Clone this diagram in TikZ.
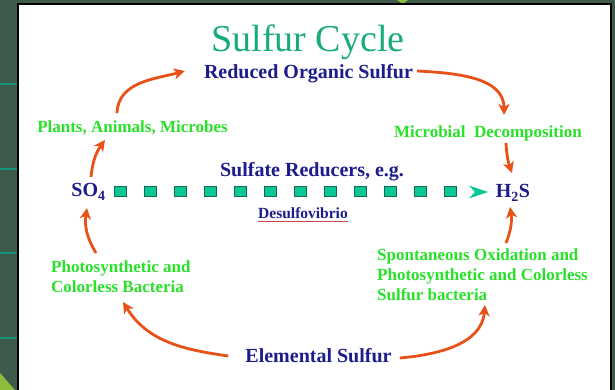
\documentclass[tikz,border=0pt]{standalone}
\usepackage{fontspec}
\setmainfont{Liberation Serif}
\usepackage{tikz}
\usetikzlibrary{arrows.meta, calc}
\definecolor{SlideBG}{RGB}{62,90,75}
\definecolor{RuleTeal}{RGB}{20,150,125}
\definecolor{CornerLime}{RGB}{140,190,60}
\definecolor{TitleTeal}{RGB}{25,170,125}
\definecolor{CompBlue}{RGB}{28,28,140}
\definecolor{ProcGreen}{RGB}{40,225,40}
\definecolor{CycleRed}{RGB}{232,82,25}
\definecolor{SqFill}{RGB}{10,200,150}
\definecolor{SqEdge}{RGB}{25,105,85}
\definecolor{SpellRed}{RGB}{200,70,80}

\begin{document}
\begin{tikzpicture}[x=1pt, y=1pt,
  comp/.style={text=CompBlue, font=\fontsize{20}{24}\selectfont\bfseries, inner sep=2pt},
  proc/.style={text=ProcGreen, font=\fontsize{17}{20}\selectfont\bfseries, inner sep=2pt, align=left},
  cyc/.style={draw=CycleRed, line width=2.8pt, -{Stealth[length=11pt,width=11pt,inset=3pt]}},
  sqbox/.style={fill=SqFill, draw=SqEdge, line width=0.8pt, minimum width=12pt, minimum height=10pt, inner sep=0pt}]
  \useasboundingbox (0,0) rectangle (615,390);
  \fill[SlideBG] (0,0) rectangle (615,390);
  \foreach \y in {52,137,221,306}
    \fill[RuleTeal] (0,\y-1) rectangle (17,\y+1);
  \fill[CornerLime] (0,17) -- (15,0) -- (0,0) -- cycle;
  \fill[CornerLime] (397,390) -- (408,390) -- (403,386) -- cycle;
  \draw[fill=white, line width=2pt] (18,-5) rectangle (611,386);

  \node[text=TitleTeal, font=\fontsize{38}{44}\selectfont, anchor=base] (title) at (308,338) {Sulfur Cycle};
  \node[comp, anchor=base] (roc) at (308.5,311) {Reduced Organic Sulfur};
  \node[proc, anchor=base] (plants) at (132.5,257) {Plants, Animals, Microbes};
  \node[proc, anchor=base] (decomp) at (488,252) {Microbial\ \ Decomposition};
  \node[comp, anchor=base] (sred) at (312,213) {Sulfate Reducers, e.g.};
  \node[comp, anchor=base] (so4) at (88.5,193) {SO\textsubscript{4}};
  \node[comp, anchor=base] (h2s) at (513,192) {H\textsubscript{2}S};
  \node[comp, font=\fontsize{15.5}{18}\selectfont\bfseries, anchor=base] (desulf) at (303,171) {Desulfovibrio};
  \node[proc, anchor=north west] (phot) at (49,131) {Photosynthetic and\\Colorless Bacteria};
  \node[proc, anchor=north west] (spont) at (375,143) {Spontaneous Oxidation and\\Photosynthetic and Colorless\\Sulfur bacteria};
  \node[comp, anchor=base] (elem) at (318.5,27) {Elemental Sulfur};

  \foreach \i in {0,...,11}
    \node[sqbox] (sq\i) at ($(so4.base)+(31.5+30*\i,6)$) {};
  \fill[SqFill] ($(h2s.base)+(-44,12.5)$) -- ++(19,-6.5) -- ++(-19,-6.5) -- ++(6,6.5) -- cycle;
  \draw[SpellRed, line width=0.7pt] ($(desulf.base west)+(2,-2.5)$) -- ($(desulf.base east)+(-2,-2.5)$);

  \draw[cyc] ([shift={(-15.5,20)}]plants.base) to[out=88,in=195] ([shift={(-17,8)}]roc.base west);
  \draw[cyc] ([shift={(2,8)}]roc.base east) to[out=-3,in=90] ([shift={(16,23)}]decomp.base);
  \draw[cyc] ([shift={(18,-5)}]decomp.base) to[bend right=8] ([shift={(-1,25)}]h2s.base);
  \draw[cyc] ([shift={(131,4)}]spont.north west) to[bend right=15] ([shift={(-3,-9)}]h2s.base);
  \draw[cyc] ([shift={(6,5)}]elem.base east) to[out=5,in=-95] ([shift={(110,-58)}]spont.north west);
  \draw[cyc] ([shift={(-15,7)}]elem.base west) to[out=172,in=-58] ([shift={(74,-43)}]phot.north west);
  \draw[cyc] ([shift={(47,6)}]phot.north west) to[bend left=20] ([shift={(-1.5,-11)}]so4.base);
  \draw[cyc] ([shift={(2.5,20)}]so4.base) to[bend left=15] ([shift={(-27.5,-7)}]plants.base);
\end{tikzpicture}
\end{document}
